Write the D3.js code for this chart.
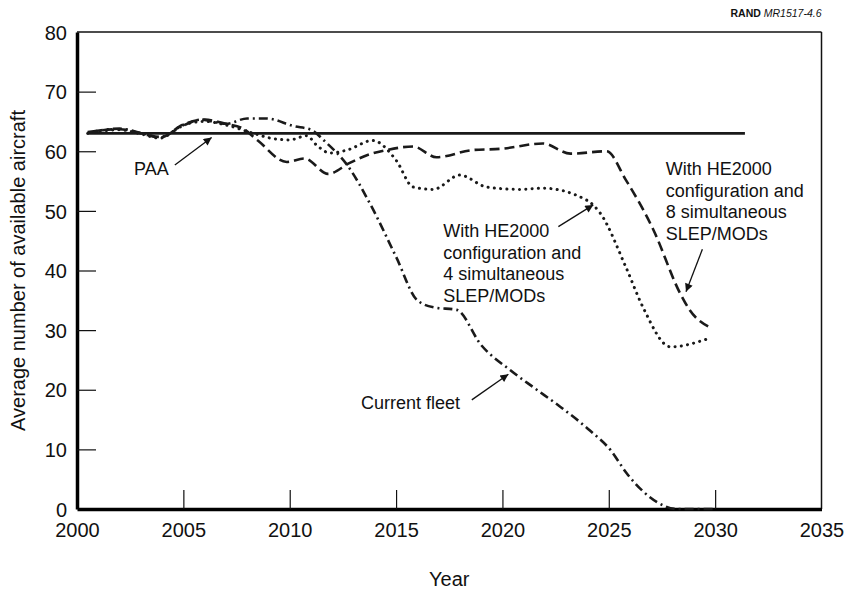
<!DOCTYPE html>
<html lang="en">
<head>
    <meta charset="UTF-8">
    <title>Average number of available aircraft</title>
    <script src="https://d3js.org/d3.v7.min.js"></script>
    <style>
        body {
            margin: 0;
            background: #fff;
        }
        svg text {
            font-family: "Liberation Sans", Arial, Helvetica, sans-serif;
            fill: #111;
        }
        .tick-label { font-size: 20px; }
        .axis-title { font-size: 20px; }
        .note { font-size: 18px; }
        .series { fill: none; stroke: #1a1a1a; }
    </style>
</head>
<body>
    <svg id="chart" width="844" height="590"></svg>

    <script>
        // --- data ---
        const xTicks = [2000, 2005, 2010, 2015, 2020, 2025, 2030, 2035];
        const yTicks = [0, 10, 20, 30, 40, 50, 60, 70, 80];

        const paa = [[2000.5, 63], [2031.4, 63]];

        const currentFleet = [
            [2000.8, 63.3], [2002, 63.8], [2003, 63.1], [2003.9, 62.4], [2005, 64.3],
            [2005.8, 65.3], [2007, 64.6], [2008, 65.5], [2008.9, 65.5], [2010.2, 64.2],
            [2011, 63.6], [2011.7, 61.5], [2012.7, 57.7], [2013.85, 50.7], [2015, 42.3],
            [2016, 35], [2016.8, 33.8], [2017.85, 33.4], [2019, 27.5], [2020.36, 23.3],
            [2021.5, 20.3], [2022.7, 17.2], [2024.1, 13.2], [2025.1, 9.8], [2025.84, 6.0],
            [2026.6, 3.0], [2027.25, 1.2], [2028.2, 0], [2030, 0]
        ];

        const slep8 = [
            [2000.5, 63.2], [2002, 63.7], [2003, 63], [2003.9, 62.3], [2005, 64.5],
            [2006, 65.3], [2007, 64.6], [2007.8, 63.8], [2008.5, 61.8], [2009.86, 58.2],
            [2010.7, 58.8], [2011.8, 56.2], [2012.8, 58], [2013.6, 59.3], [2014.56, 60.2],
            [2015.8, 60.8], [2016.9, 59], [2018.6, 60.2], [2019.9, 60.4], [2021.9, 61.3],
            [2023.2, 59.6], [2024.9, 60], [2025.8, 55.2], [2027.1, 46.8], [2028.35, 36.2],
            [2028.8, 33.4], [2029.84, 30.3]
        ];

        const slep4 = [
            [2000.5, 63], [2002, 63.6], [2003, 62.9], [2003.9, 62.2], [2005, 64.4],
            [2006, 65], [2007, 64.4], [2008.3, 63], [2009.1, 62.2], [2010, 61.9],
            [2010.8, 62.6], [2011.27, 61], [2011.9, 59.7], [2012.7, 60.2], [2013.9, 61.8],
            [2015, 58.5], [2015.8, 54], [2016.75, 53.6], [2018, 56], [2019.26, 54],
            [2020.8, 53.6], [2021.9, 53.8], [2023.96, 51.8], [2024.6, 49.6], [2025.8, 40.6],
            [2026.6, 33.9], [2027.9, 27.2], [2029.7, 28.6]
        ];

        // annotations: text lines, text anchor point (year, value), arrow from -> to
        const notes = [
            { lines: ["PAA"], at: [2002.68, 56.0], from: [2004.6, 57.7], to: [2006.33, 62.3] },
            { lines: ["Current fleet"], at: [2013.35, 16.7], from: [2018.56, 18.3], to: [2020.28, 22.6] },
            { lines: ["With HE2000", "configuration and", "4 simultaneous", "SLEP/MODs"],
              at: [2017.22, 45.6], from: [2022.63, 47.35], to: [2024.27, 51.0] },
            { lines: ["With HE2000", "configuration and", "8 simultaneous", "SLEP/MODs"],
              at: [2027.68, 56.0], from: [2029.4, 43.55], to: [2028.63, 36.45] }
        ];

        const svg = d3.select("#chart");
        const plotLeft = 77, plotRight = 821.5, plotTop = 32, plotBottom = 509;

        const x = d3.scaleLinear().domain([2000, 2035]).range([plotLeft, plotRight]);
        const y = d3.scaleLinear().domain([0, 80]).range([plotBottom, plotTop]);

        // frame (thin top and right)
        svg.append("line")
            .attr("x1", plotLeft).attr("x2", plotRight).attr("y1", plotTop).attr("y2", plotTop)
            .attr("stroke", "#111").attr("stroke-width", 1.5);
        svg.append("line")
            .attr("x1", plotRight).attr("x2", plotRight).attr("y1", plotTop).attr("y2", plotBottom)
            .attr("stroke", "#111").attr("stroke-width", 1.5);

        // X axis, ticks pointing inward
        const xAxis = svg.append("g")
            .attr("transform", `translate(0,${plotBottom})`)
            .call(d3.axisBottom(x).tickValues(xTicks).tickFormat(d3.format("d"))
                .tickSizeInner(-19).tickSizeOuter(0).tickPadding(14));
        xAxis.select(".domain").attr("stroke", "#000").attr("stroke-width", 3.5);
        xAxis.selectAll(".tick line").attr("stroke", "#111").attr("stroke-width", 1.2);
        xAxis.selectAll(".tick text").attr("class", "tick-label")
            .attr("y", 28).attr("dy", 0);
        xAxis.attr("font-family", null).attr("font-size", null);

        // Y axis
        const yAxis = svg.append("g")
            .attr("transform", `translate(${plotLeft},0)`)
            .call(d3.axisLeft(y).tickValues(yTicks)
                .tickSizeInner(-19).tickSizeOuter(0).tickPadding(10));
        yAxis.select(".domain").attr("stroke", "#000").attr("stroke-width", 3.5);
        yAxis.selectAll(".tick line").attr("stroke", "#111").attr("stroke-width", 1.2);
        yAxis.selectAll(".tick text").attr("class", "tick-label")
            .attr("x", -10).attr("dy", "0.36em");
        yAxis.attr("font-family", null).attr("font-size", null);

        // keep the ticks at the ends from doubling up the frame
        xAxis.selectAll(".tick line").filter(d => d === 2000 || d === 2035).remove();
        yAxis.selectAll(".tick line").filter(d => d === 0 || d === 80).remove();

        // axis titles
        svg.append("text")
            .attr("class", "axis-title")
            .attr("x", (plotLeft + plotRight) / 2)
            .attr("y", 586)
            .attr("text-anchor", "middle")
            .text("Year");

        svg.append("text")
            .attr("class", "axis-title")
            .attr("transform", `translate(25,${(plotTop + plotBottom) / 2}) rotate(-90)`)
            .attr("text-anchor", "middle")
            .text("Average number of available aircraft");

        // source tag
        const tag = svg.append("text")
            .attr("x", plotRight)
            .attr("y", 17)
            .attr("text-anchor", "end")
            .style("font-size", "10.5px");
        tag.append("tspan").style("font-weight", "bold").text("RAND ");
        tag.append("tspan").style("font-style", "italic").text("MR1517-4.6");

        // lines
        const line = d3.line()
            .x(d => x(d[0]))
            .y(d => y(d[1]))
            .curve(d3.curveMonotoneX);

        svg.append("path").datum(paa)
            .attr("class", "series")
            .attr("d", line)
            .attr("stroke", "#2a2a2a")
            .attr("stroke-width", 2.6);

        svg.append("path").datum(slep8)
            .attr("class", "series")
            .attr("d", line)
            .attr("stroke-width", 2.6)
            .attr("stroke-dasharray", "10,5");

        svg.append("path").datum(slep4)
            .attr("class", "series")
            .attr("d", line)
            .attr("stroke-width", 3)
            .attr("stroke-linecap", "round")
            .attr("stroke-dasharray", "0.1,6.2");

        svg.append("path").datum(currentFleet)
            .attr("class", "series")
            .attr("d", line)
            .attr("stroke-width", 2.6)
            .attr("stroke-dasharray", "9,4,2,4");

        // arrow marker
        svg.append("defs").append("marker")
            .attr("id", "arrow")
            .attr("viewBox", "0 0 10 10")
            .attr("refX", 10).attr("refY", 5)
            .attr("markerWidth", 11).attr("markerHeight", 8)
            .attr("markerUnits", "userSpaceOnUse")
            .attr("orient", "auto")
            .append("path")
            .attr("d", "M0,0 L10,5 L0,10 z")
            .attr("fill", "#111");

        notes.forEach(n => {
            svg.append("line")
                .attr("x1", x(n.from[0])).attr("y1", y(n.from[1]))
                .attr("x2", x(n.to[0])).attr("y2", y(n.to[1]))
                .attr("stroke", "#111")
                .attr("stroke-width", 1.3)
                .attr("marker-end", "url(#arrow)");

            const t = svg.append("text")
                .attr("class", "note")
                .attr("x", x(n.at[0]))
                .attr("y", y(n.at[1]));
            n.lines.forEach((s, i) => {
                t.append("tspan")
                    .attr("x", x(n.at[0]))
                    .attr("dy", i === 0 ? 0 : 21.5)
                    .text(s);
            });
        });
    </script>
</body>
</html>
